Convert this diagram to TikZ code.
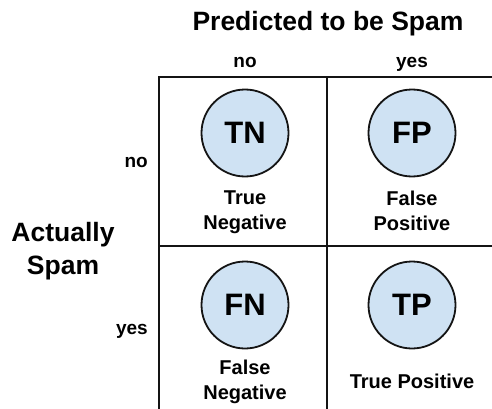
\documentclass[tikz,border=0pt]{standalone}
\usepackage{fontspec}
\setmainfont{Liberation Sans}
\usetikzlibrary{positioning}
\definecolor{cellblue}{RGB}{207,226,243}
\definecolor{gridblack}{RGB}{20,20,20}

\begin{document}
\begin{tikzpicture}[
  x=1pt, y=-1pt, font=\bfseries,
  grid/.style={line width=2.2pt, draw=gridblack},
  outcome/.style={circle, draw=gridblack, line width=1.8pt, fill=cellblue,
                  minimum size=87pt, inner sep=0pt, font=\fontsize{31}{33}\selectfont\bfseries},
  caption/.style={align=center, inner sep=1pt, font=\fontsize{20}{25}\selectfont\bfseries},
  axis/.style={inner sep=1pt, anchor=base, font=\fontsize{19}{22}\selectfont\bfseries},
  head/.style={align=center, inner sep=1pt, font=\fontsize{26.5}{33}\selectfont\bfseries}]

  \useasboundingbox (0,0) rectangle (492,409);

  % ---------- grid ----------
  \coordinate (tl) at (159,77);
  \coordinate (tr) at (492,77);
  \coordinate (ml) at (159,246);
  \coordinate (mr) at (492,246);
  \coordinate (bl) at (159,409);
  \coordinate (tm) at (327,77);
  \coordinate (bm) at (327,409);
  \draw[grid] (tr) -- (tl) -- (bl);
  \draw[grid] (ml) -- (mr);
  \draw[grid] (tm) -- (bm);

  % ---------- headings ----------
  \node[head] (pred) at (328,24) {Predicted to be Spam};
  \node[axis] (pno)  at (245,68) {no};
  \node[axis] (pyes) at (412,68) {yes};
  \node[head] (act)  at (63,251) {Actually\\Spam};
  \node[axis,anchor=base east] (ano)  at (149,167) {no};
  \node[axis,anchor=base east] (ayes) at (149,334) {yes};

  % ---------- cells ----------
  \node[outcome] (tn) at (245,133) {TN};
  \node[outcome] (fp) at (412,133) {FP};
  \node[outcome] (fn) at (245,305) {FN};
  \node[outcome] (tp) at (412,305) {TP};
  \node[caption,below=12pt of tn] {True\\Negative};
  \node[caption,below=12pt of fp] {False\\Positive};
  \node[caption,below=9pt of fn] {False\\Negative};
  \node[caption,below=23pt of tp] {True Positive};

\end{tikzpicture}
\end{document}
